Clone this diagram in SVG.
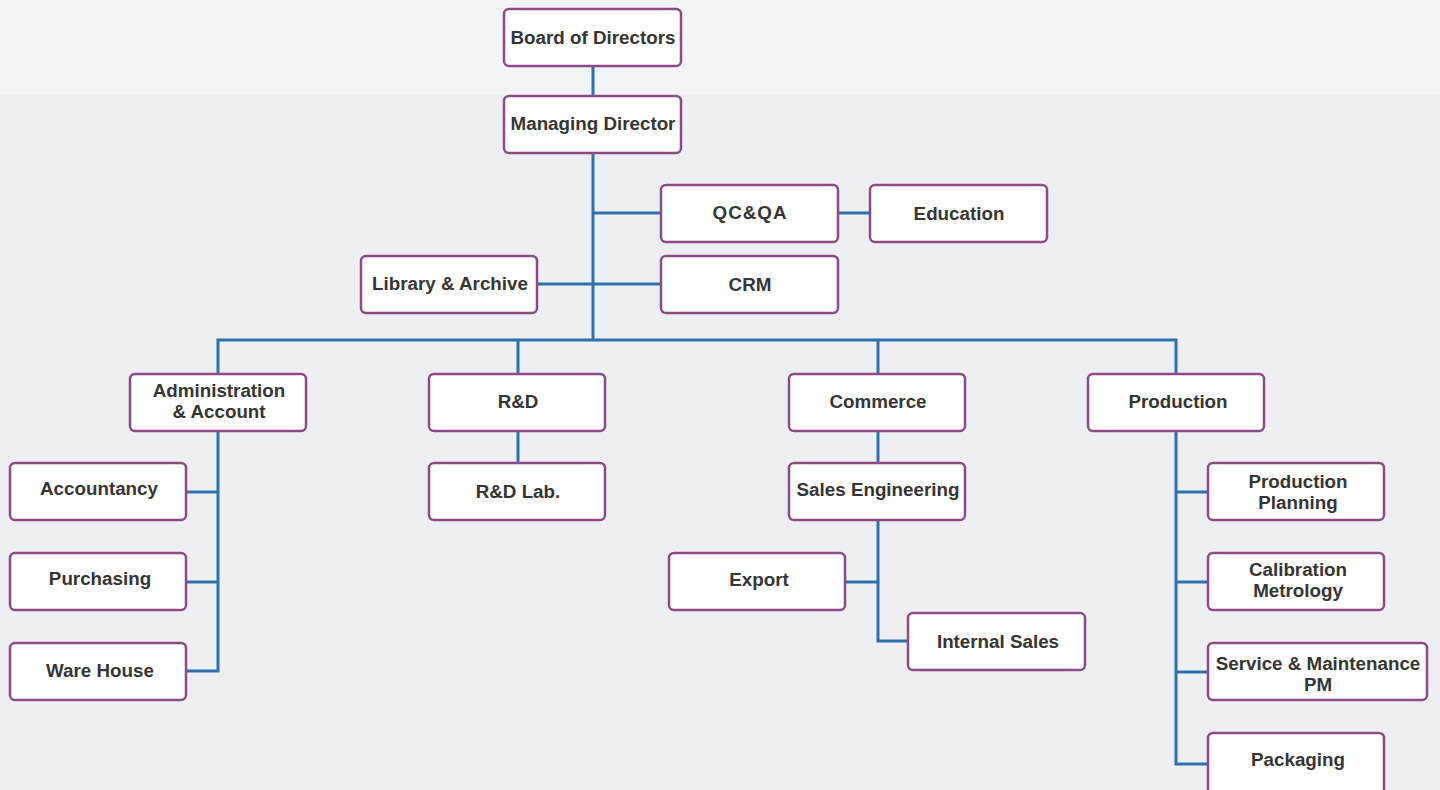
<svg xmlns="http://www.w3.org/2000/svg" width="1440" height="790" viewBox="0 0 1440 790">
<defs>
<style>
.box{fill:#ffffff;stroke:#8c4a86;stroke-width:2.5}
.t{font-family:"Liberation Sans",Arial,sans-serif;font-weight:bold;font-size:18.8px;fill:#353535;text-anchor:middle}
.c{fill:none;stroke:#2e70ae;stroke-width:3}
</style>
</defs>
<rect x="0" y="0" width="1440" height="790" fill="#edeff2"/>
<rect x="0" y="0" width="1440" height="95" fill="#f2f4f6"/>
<g id="connectors">
<path class="c" d="M593 66V96"/>
<path class="c" d="M593 153V340"/>
<path class="c" d="M593 213H661"/>
<path class="c" d="M838 213H870"/>
<path class="c" d="M537 284H661"/>
<path class="c" d="M218 374V340H1176V374"/>
<path class="c" d="M518 340V374"/>
<path class="c" d="M878 340V374"/>
<path class="c" d="M218 431V671H186"/>
<path class="c" d="M186 492H218"/>
<path class="c" d="M186 582H218"/>
<path class="c" d="M518 431V463"/>
<path class="c" d="M878 431V463"/>
<path class="c" d="M878 520V641H908"/>
<path class="c" d="M845 582H878"/>
<path class="c" d="M1176 431V764H1208"/>
<path class="c" d="M1176 492H1208"/>
<path class="c" d="M1176 582H1208"/>
<path class="c" d="M1176 672H1208"/>
</g>
<g id="board"><rect class="box" x="504" y="9" width="177" height="57" rx="5"/><text class="t" x="593" y="44">Board of Directors</text></g>
<g id="managing"><rect class="box" x="504" y="96" width="177" height="57" rx="5"/><text class="t" x="593" y="130">Managing Director</text></g>
<g id="qcqa"><rect class="box" x="661" y="185" width="177" height="57" rx="5"/><text class="t" x="750" y="219" letter-spacing="1">QC&amp;QA</text></g>
<g id="education"><rect class="box" x="870" y="185" width="177" height="57" rx="5"/><text class="t" x="959" y="220">Education</text></g>
<g id="library"><rect class="box" x="361" y="256" width="176" height="57" rx="5"/><text class="t" x="450" y="290">Library &amp; Archive</text></g>
<g id="crm"><rect class="box" x="661" y="256" width="177" height="57" rx="5"/><text class="t" x="750" y="291">CRM</text></g>
<g id="admin"><rect class="box" x="130" y="374" width="176" height="57" rx="5"/><text class="t" x="219" y="397">Administration</text><text class="t" x="219" y="418">&amp; Account</text></g>
<g id="rnd"><rect class="box" x="429" y="374" width="176" height="57" rx="5"/><text class="t" x="518" y="408">R&amp;D</text></g>
<g id="commerce"><rect class="box" x="789" y="374" width="176" height="57" rx="5"/><text class="t" x="878" y="408">Commerce</text></g>
<g id="production"><rect class="box" x="1088" y="374" width="176" height="57" rx="5"/><text class="t" x="1178" y="408">Production</text></g>
<g id="accountancy"><rect class="box" x="10" y="463" width="176" height="57" rx="5"/><text class="t" x="99" y="495">Accountancy</text></g>
<g id="purchasing"><rect class="box" x="10" y="553" width="176" height="57" rx="5"/><text class="t" x="100" y="585">Purchasing</text></g>
<g id="warehouse"><rect class="box" x="10" y="643" width="176" height="57" rx="5"/><text class="t" x="100" y="677">Ware House</text></g>
<g id="rndlab"><rect class="box" x="429" y="463" width="176" height="57" rx="5"/><text class="t" x="518" y="498">R&amp;D Lab.</text></g>
<g id="saleseng"><rect class="box" x="789" y="463" width="176" height="57" rx="5"/><text class="t" x="878" y="496">Sales Engineering</text></g>
<g id="export"><rect class="box" x="669" y="553" width="176" height="57" rx="5"/><text class="t" x="759" y="586">Export</text></g>
<g id="internalsales"><rect class="box" x="908" y="613" width="177" height="57" rx="5"/><text class="t" x="998" y="648">Internal Sales</text></g>
<g id="prodplanning"><rect class="box" x="1208" y="463" width="176" height="57" rx="5"/><text class="t" x="1298" y="488">Production</text><text class="t" x="1298" y="509">Planning</text></g>
<g id="calibration"><rect class="box" x="1208" y="553" width="176" height="57" rx="5"/><text class="t" x="1298" y="576">Calibration</text><text class="t" x="1298" y="597">Metrology</text></g>
<g id="service"><rect class="box" x="1208" y="643" width="219" height="57" rx="5"/><text class="t" x="1318" y="670">Service &amp; Maintenance</text><text class="t" x="1318" y="691">PM</text></g>
<g id="packaging"><rect class="box" x="1208" y="733" width="176" height="62" rx="5"/><text class="t" x="1298" y="766">Packaging</text></g>
</svg>
